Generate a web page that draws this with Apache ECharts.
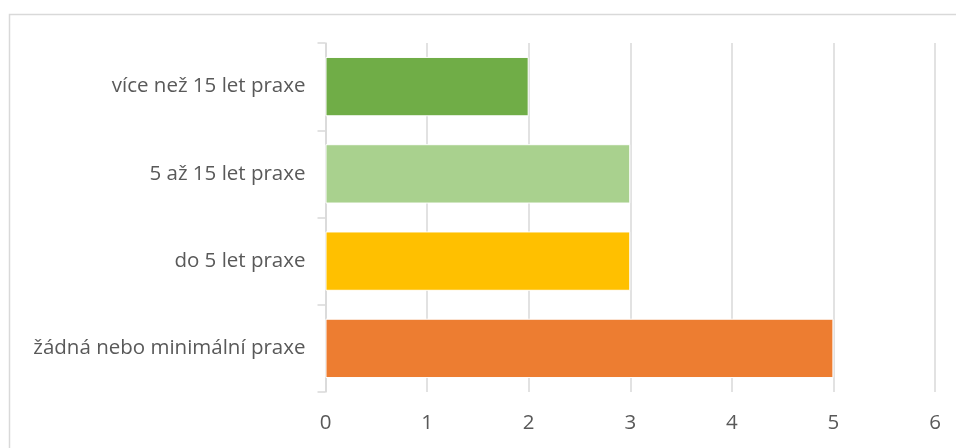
<!DOCTYPE html>
<html lang="cs">
	<head>
		<meta charset="UTF-8" />
		<title>Praxe</title>
		<script src="https://cdn.jsdelivr.net/npm/echarts@6.0.0/dist/echarts.min.js"></script>
		<style>
			html, body { margin: 0; padding: 0; background: #fff; }
		</style>
	</head>
	<body>
		<div id="main" style="width: 956px; height: 448px"></div>
		<script type="text/javascript">
			// bottom to top, as drawn on the category axis
			const categories = ["žádná nebo minimální praxe", "do 5 let praxe", "5 až 15 let praxe", "více než 15 let praxe"];
			const values = [5, 3, 3, 2];
			const barColors = ["#ED7D31", "#FFC000", "#A9D18E", "#70AD47"];
			const xTicks = [0, 1, 2, 3, 4, 5, 6];

			const font = "'Open Sans', sans-serif";

			let options = {
				animation: false,
				graphic: [
					{
						type: "rect",
						shape: { x: 9.5, y: 14.5, width: 980, height: 480 },
						style: { fill: "none", stroke: "#d9d9d9", lineWidth: 1.5 },
					},
				],
				grid: { left: 325.5, right: 21, top: 43, bottom: 56 },
				xAxis: {
					type: "value",
					min: xTicks[0],
					max: xTicks[xTicks.length - 1],
					interval: 1,
					axisLine: { show: false },
					axisTick: { show: false },
					axisLabel: { color: "#595959", fontSize: 20.5, fontFamily: font, margin: 21 },
					splitLine: { lineStyle: { color: "#d9d9d9", width: 1.5 } },
				},
				yAxis: {
					type: "category",
					data: categories,
					axisLine: { lineStyle: { color: "#d9d9d9", width: 1.5 } },
					axisTick: { show: true, length: 8, lineStyle: { color: "#d9d9d9", width: 1.5 } },
					axisLabel: { color: "#595959", fontSize: 20.5, fontFamily: font, margin: 20 },
				},
				series: [
					{
						type: "bar",
						barCategoryGap: "32%",
						data: values.map((v, i) => ({ value: v, itemStyle: { color: barColors[i] } })),
						itemStyle: { borderColor: "#fff", borderWidth: 1 },
					},
				],
			};

			let myChart = echarts.init(document.getElementById("main"));
			myChart.setOption(options);
		</script>
	</body>
</html>
